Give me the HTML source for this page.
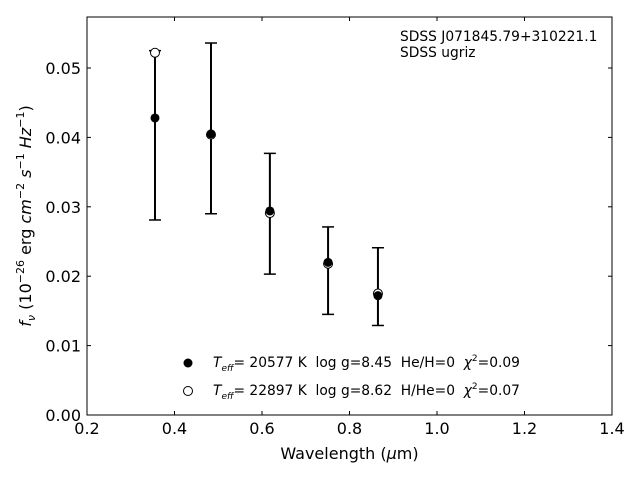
<!DOCTYPE html>
<html><head><meta charset="utf-8"><style>
body{margin:0;background:#fff;}
svg text{font-family:"DejaVu Sans","Liberation Sans",sans-serif;}
.pre{white-space:pre;}
</style></head><body>
<svg id="chart" width="640" height="480" xmlns="http://www.w3.org/2000/svg">
<rect width="640" height="480" fill="#fff"/>
<g id="marks"></g>
<rect x="87" y="17" width="525" height="398" fill="none" stroke="#000" stroke-width="1"/>
<g id="axes"></g>
<text x="349.5" y="459" font-size="16" text-anchor="middle">Wavelength (<tspan font-style="italic">μ</tspan>m)</text>
<text transform="translate(31,216) rotate(-90)" font-size="16" text-anchor="middle"><tspan font-style="italic">f</tspan><tspan font-style="italic" font-size="11" dy="4">ν</tspan><tspan dy="-4"> (10</tspan><tspan font-size="11" dy="-7">−26</tspan><tspan dy="7"> erg </tspan><tspan font-style="italic">cm</tspan><tspan font-size="11" dy="-7">−2</tspan><tspan dy="7" font-style="italic"> s</tspan><tspan font-size="11" dy="-7">−1</tspan><tspan dy="7" font-style="italic"> Hz</tspan><tspan font-size="11" dy="-7">−1</tspan><tspan dy="7">)</tspan></text>
<text x="400" y="41" font-size="13.8">SDSS J071845.79+310221.1</text>
<text x="400" y="57" font-size="13.8">SDSS ugriz</text>
<g>
<circle cx="188" cy="363" r="4.5" fill="#000"/>
<text class="pre" x="213" y="367" font-size="13.8"><tspan font-style="italic">T</tspan><tspan font-style="italic" font-size="9" dy="4">eff</tspan><tspan dy="-4">= 20577 K  log g=8.45  He/H=0  </tspan><tspan font-style="italic">χ</tspan><tspan font-size="9" dy="-6">2</tspan><tspan dy="6">=0.09</tspan></text>
<circle cx="188" cy="391" r="4.5" fill="#fff" stroke="#000"/>
<text class="pre" x="213" y="395" font-size="13.8"><tspan font-style="italic">T</tspan><tspan font-style="italic" font-size="9" dy="4">eff</tspan><tspan dy="-4">= 22897 K  log g=8.62  H/He=0  </tspan><tspan font-style="italic">χ</tspan><tspan font-size="9" dy="-6">2</tspan><tspan dy="6">=0.07</tspan></text>
</g>
</svg>
<script>
const wavelengths=[0.3554,0.4834,0.618,0.751,0.865];
const observed=[0.0403,0.0413,0.0290,0.0208,0.0185];
const obsErr=[0.0122,0.0123,0.0087,0.0063,0.0056];
const modelH=[0.0428,0.0405,0.0294,0.0220,0.0172];
const modelHe=[0.0522,0.0404,0.0291,0.0218,0.0175];
const xTicks=[0.2,0.4,0.6,0.8,1.0,1.2,1.4];
const xTickLabels=["0.2","0.4","0.6","0.8","1.0","1.2","1.4"];
const yTicks=[0,0.01,0.02,0.03,0.04,0.05];
const yTickLabels=["0.00","0.01","0.02","0.03","0.04","0.05"];
const NS="http://www.w3.org/2000/svg";
const X=v=>87+(v-0.2)*437.5;
const Y=v=>415-v*6940;
const marks=document.getElementById('marks'),axes=document.getElementById('axes');
function mk(tag,attrs,parent){const e=document.createElementNS(NS,tag);for(const k in attrs)e.setAttribute(k,attrs[k]);parent.appendChild(e);return e;}
xTicks.forEach((t,i)=>{
 const l=mk('line',{x1:X(t),x2:X(t),y1:415,y2:411,stroke:'#000'},axes);
 
 
 const l2=mk('line',{x1:X(t),x2:X(t),y1:17,y2:21,stroke:'#000'},axes);
 
 
 const tx=mk('text',{x:X(t),y:434,'font-size':16,'text-anchor':'middle'},axes);tx.textContent=xTickLabels[i];
 
 
});
yTicks.forEach((t,i)=>{
 const l=mk('line',{x1:87,x2:91,y1:Y(t),y2:Y(t),stroke:'#000'},axes);
 
 
 const l2=mk('line',{x1:608,x2:612,y1:Y(t),y2:Y(t),stroke:'#000'},axes);
 
 
 const tx=mk('text',{x:81,y:Y(t)+6,'font-size':16,'text-anchor':'end'},axes);tx.textContent=yTickLabels[i];
 
 
});
wavelengths.forEach((w,i)=>{
 const x=X(w),t=Y(observed[i]+obsErr[i]),b=Y(observed[i]-obsErr[i]);
 const g=mk('g',{stroke:'#000','stroke-width':2},marks);
 
 
 mk('line',{x1:x,x2:x,y1:t,y2:b},g);
 mk('line',{x1:x-6,x2:x+6,y1:t,y2:t,'stroke-width':1.5},g);
 mk('line',{x1:x-6,x2:x+6,y1:b,y2:b,'stroke-width':1.5},g);
});
wavelengths.forEach((w,i)=>{
 const c=mk('circle',{cx:X(w),cy:Y(modelHe[i]),r:4.5,fill:'#fff',stroke:'#000'},marks);
 
 
});
wavelengths.forEach((w,i)=>{
 const c=mk('circle',{cx:X(w),cy:Y(modelH[i]),r:4.5,fill:'#000'},marks);
 
 
});
</script>
</body></html>
